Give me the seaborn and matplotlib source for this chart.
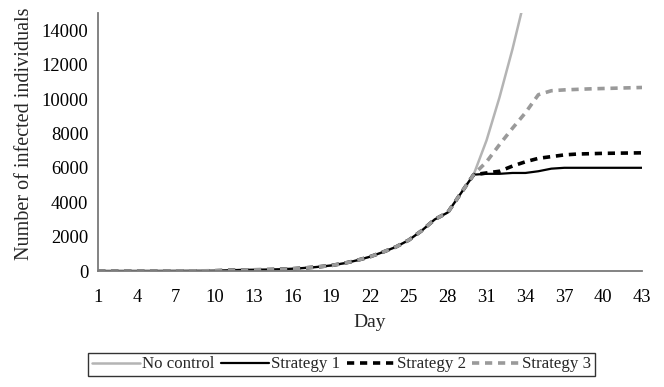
import matplotlib
matplotlib.use("Agg")
import matplotlib.pyplot as plt
from matplotlib.ticker import MultipleLocator, FixedLocator
import seaborn as sns
import pandas as pd

# Days of the outbreak
days = list(range(1, 44))

# Infected individuals, days 1-30 (identical for every scenario)
early = [1, 1, 2, 2, 3, 4, 6, 8, 10, 15,
         40, 60, 70, 80, 100, 130, 180, 240, 320, 450,
         620, 830, 1100, 1400, 1800, 2350, 3000, 3400, 4500, 5600]

# Days 31 onwards for each scenario
no_control_late = [7600, 10100, 12900, 16000]
strategy1_late = [5650, 5650, 5700, 5700, 5800, 5950, 6000, 6000, 6000, 6000, 6000, 6000, 6000]
strategy2_late = [5700, 5800, 6100, 6350, 6550, 6650, 6750, 6800, 6820, 6840, 6850, 6860, 6870]
strategy3_late = [6350, 7350, 8300, 9200, 10250, 10480, 10530, 10560, 10590, 10610, 10630, 10650, 10670]

series_names = ["No control", "Strategy 1", "Strategy 2", "Strategy 3"]
series_values = [early + no_control_late, early + strategy1_late,
                 early + strategy2_late, early + strategy3_late]

y_ticks = [0, 2000, 4000, 6000, 8000, 10000, 12000, 14000]
x_tick_labels = list(range(1, 44, 3))

sns.set_style("white")
plt.rcParams["font.family"] = ["Liberation Serif", "DejaVu Serif"]

frames = []
for name, vals in zip(series_names, series_values):
    frames.append(pd.DataFrame({"Day": days[:len(vals)], "Infected": vals, "Scenario": name}))
df = pd.concat(frames, ignore_index=True)

styles = {
    "No control": dict(color="#b4b4b4", linewidth=1.8, linestyle="-"),
    "Strategy 1": dict(color="black", linewidth=1.6, linestyle="-"),
    "Strategy 2": dict(color="black", linewidth=2.6, linestyle=(0, (2.0, 1.6))),
    "Strategy 3": dict(color="#9a9a9a", linewidth=2.6, linestyle=(0, (2.0, 1.6))),
}

fig = plt.figure(figsize=(6.64, 3.87), dpi=100)
ax = fig.add_axes([98 / 664, 1 - 271 / 387, (642 - 98) / 664, (271 - 13) / 387])

for name in series_names:
    sub = df[df["Scenario"] == name]
    sns.lineplot(data=sub, x="Day", y="Infected", ax=ax, label=name,
                 **styles[name])

ax.set_xlim(1, 43)
ax.set_ylim(0, 15000)
ax.xaxis.set_major_locator(FixedLocator(x_tick_labels))
ax.xaxis.set_minor_locator(MultipleLocator(1))
ax.set_xticklabels([str(d) for d in x_tick_labels])
ax.set_yticks(y_ticks)
ax.set_yticklabels([str(v) for v in y_ticks])

for side in ["top", "right"]:
    ax.spines[side].set_visible(False)
for side in ["left", "bottom"]:
    ax.spines[side].set_color("#7a7a7a")
    ax.spines[side].set_linewidth(1.3)

ax.tick_params(axis="both", which="both", direction="out", color="#7a7a7a",
               labelsize=13.3, labelcolor="black")
ax.tick_params(axis="x", which="both", length=5, width=1.1, pad=8)
ax.tick_params(axis="y", which="major", length=5, width=1.1, pad=2)

ax.set_xlabel("Day", fontsize=14)
ax.set_ylabel("Number of infected individuals", fontsize=14.5)
ax.xaxis.set_label_coords((370 - 98) / 544, (271 - 314) / 258)
ax.yaxis.set_label_coords((34 - 98) / 544, (271 - 134) / 258)

leg = ax.legend(loc="center", bbox_to_anchor=((341.5 - 98) / 544, (271 - 364.5) / 258),
                ncol=4, frameon=True, fancybox=False, fontsize=12.2,
                handlelength=2.85, handletextpad=0.1, columnspacing=0.4,
                borderpad=0.2, borderaxespad=0)
leg.get_frame().set_edgecolor("black")
leg.get_frame().set_linewidth(1.0)

fig.savefig("out.png", dpi=100)
